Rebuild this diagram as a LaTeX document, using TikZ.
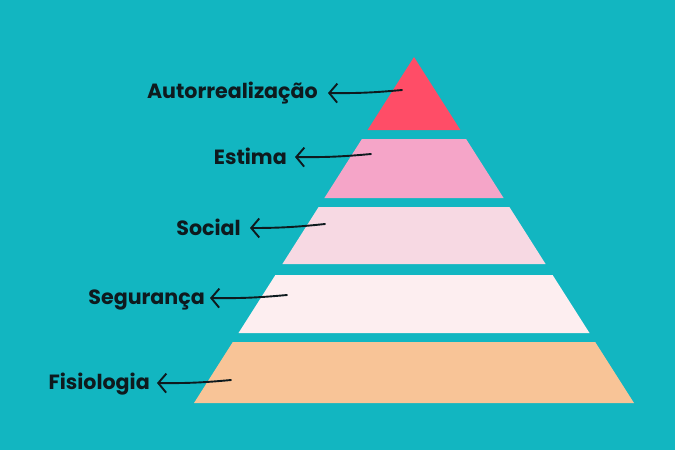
\documentclass[tikz,border=0pt]{standalone}
\usepackage{fontspec}
\setmainfont{Poppins}[UprightFont=* SemiBold, BoldFont=* Bold]
\usepackage{tikz}
\usetikzlibrary{arrows.meta}
\definecolor{teal}{HTML}{12B6C1}
\definecolor{topred}{HTML}{FF4D67}
\definecolor{estimapink}{HTML}{F5A5C8}
\definecolor{socialpink}{HTML}{F7D9E3}
\definecolor{segpink}{HTML}{FDEEF0}
\definecolor{fisiopeach}{HTML}{F8C497}
\definecolor{ink}{HTML}{0E1A1E}
\def\autolayer{(414,57) -- (460.4,130) -- (367.6,130) -- cycle}
\def\estimalayer{(361.9,139) -- (466.1,139) -- (503.6,198) -- (324.4,198) -- cycle}
\def\sociallayer{(318.6,207) -- (509.4,207) -- (545.6,264) -- (282.4,264) -- cycle}
\def\seglayer{(275.4,275) -- (552.6,275) -- (589.5,333) -- (238.5,333) -- cycle}
\def\fisiolayer{(232.8,342) -- (595.2,342) -- (634,403) -- (194,403) -- cycle}
\tikzset{
  level/.style={anchor=base east, inner sep=0pt, text=ink,
    font=\fontsize{20.6}{22}\selectfont\bfseries},
  pointer/.style={draw=ink, line width=1.9pt, line cap=round,
    -{Straight Barb[length=8pt,width=19pt,line width=1.9pt]}}
}

\begin{document}
\begin{tikzpicture}[x=1pt,y=-1pt]
\fill[teal] (0,0) rectangle (675,450);
\useasboundingbox (0,0) rectangle (675,450);
\fill[topred] \autolayer;
\fill[estimapink] \estimalayer;
\fill[socialpink] \sociallayer;
\fill[segpink] \seglayer;
\fill[fisiopeach] \fisiolayer;
% labels
\node[level] (auto) at (318,98) {Autorrealização};
\node[level] (estima) at (287,164) {Estima};
\node[level] (social) at (241,235) {Social};
\node[level] (seg) at (205,304) {Segurança};
\node[level] (fisio) at (150,389) {Fisiologia};
% arrow tails and heads
\coordinate (autotail) at (402,90);
\coordinate (estimatail) at (371,154);
\coordinate (socialtail) at (325,224);
\coordinate (segtail) at (287,295);
\coordinate (fisiotail) at (231,380);
\draw[pointer] (autotail) to[bend left=3] ([xshift=10pt,yshift=5pt]auto.base east);
\draw[pointer] (estimatail) to[bend left=3] ([xshift=8pt,yshift=7pt]estima.base east);
\draw[pointer] (socialtail) to[bend left=3] ([xshift=9pt,yshift=7pt]social.base east);
\draw[pointer] (segtail) to[bend left=3] ([xshift=5pt,yshift=6pt]seg.base east);
\draw[pointer] (fisiotail) to[bend left=3] ([xshift=7pt,yshift=6pt]fisio.base east);
\end{tikzpicture}
\end{document}
